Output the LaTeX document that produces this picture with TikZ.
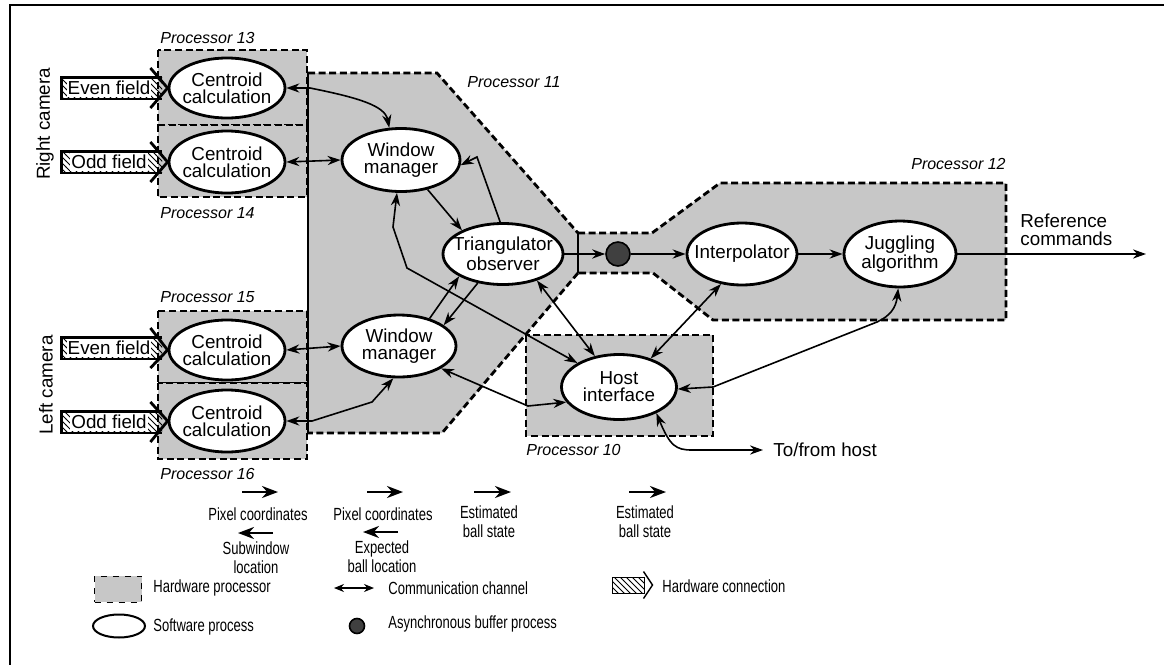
\documentclass[tikz,border=0pt]{standalone}
\usepackage{fontspec}
\setmainfont{Liberation Sans}
\newfontfamily\narrowfont[FakeStretch=0.74]{Liberation Sans}
\usepackage{tikz}
\usetikzlibrary{shapes.geometric,arrows.meta,patterns}
\tikzstyle{arrow} = [line width=0.8pt, -{Stealth[length=6.5pt,width=4.6pt]}]
\tikzstyle{twoway} = [line width=0.8pt, {Stealth[length=6.5pt,width=4.6pt]}-{Stealth[length=6.5pt,width=4.6pt]}]
\tikzstyle{flow} = [line width=1.2pt, -{Stealth[length=8pt,width=6pt]}]
\tikzstyle{task} = [ellipse, draw, line width=1.4pt, fill=white, align=center, inner xsep=-5pt, inner ysep=0pt, font=\fontsize{9.4}{8.6}\selectfont]
\tikzstyle{buffer} = [circle, draw, line width=0.8pt, fill=black!75, minimum size=12pt, inner sep=0pt]
\tikzstyle{procarea} = [fill=black!22]
\tikzstyle{procedge} = [line width=1.4pt, dash pattern=on 3.5pt off 1.8pt]
\tikzstyle{procname} = [font=\fontsize{8}{9}\selectfont\itshape, inner sep=0pt]
\tikzstyle{hwlink} = [pattern=north west lines, minimum width=50pt, minimum height=10.5pt, inner sep=0pt]
\tikzstyle{hwtext} = [fill=white, minimum height=9.1pt, inner xsep=0.6pt, inner ysep=0pt]
\tikzstyle{hwline} = [line width=1.4pt]
\tikzstyle{flowtext} = [align=center, inner sep=0pt, font=\narrowfont\fontsize{8.8}{9.3}\selectfont]
\tikzstyle{legtext} = [anchor=west, inner sep=0pt, font=\narrowfont\fontsize{8.8}{9.3}\selectfont]

\begin{document}
\begin{tikzpicture}[x=0.5pt, y=-0.5pt, every node/.style={font=\fontsize{9.4}{9}\selectfont}]
	\useasboundingbox (0,0) rectangle (1164,665);
	\draw[line width=0.7pt] (10,665) -- (10,5) -- (1164,5);

	\fill[procarea] (308,73) -- (437,73) -- (578,233) -- (578,273) -- (442,433) -- (308,433) -- cycle;
	\fill[procarea] (578,233) -- (652,233) -- (720,183) -- (1006,183) -- (1006,320) -- (713,320) -- (653,273) -- (578,273) -- cycle;
	\fill[procarea] (526,335) rectangle (713,436);
	\draw[procedge] (308,73) -- (437,73) -- (578,233);
	\draw[procedge] (578,273) -- (442,433) -- (308,433);
	\draw[procedge] (578,233) -- (652,233) -- (720,183) -- (1006,183) -- (1006,320) -- (713,320) -- (653,273) -- (578,273);
	\draw[procedge] (526,335) rectangle (713,436);
	\filldraw[procarea, procedge] (158,50) rectangle (307,125);
	\filldraw[procarea, procedge] (158,125) rectangle (307,197);
	\filldraw[procarea, procedge] (158,311) rectangle (307,383);
	\filldraw[procarea, procedge] (158,383) rectangle (307,459);
	\draw[hwline] (308,73) -- (308,433);
	\draw[hwline] (578,233) -- (578,273);

	\node[procname, anchor=west] (p13) at (160,38) {Processor 13};
	\node[procname, anchor=west] (p14) at (160,213) {Processor 14};
	\node[procname, anchor=west] (p15) at (160,297) {Processor 15};
	\node[procname, anchor=west] (p16) at (160,474) {Processor 16};
	\node[procname, anchor=west] (p11) at (467,82) {Processor 11};
	\node[procname, anchor=east] (p12) at (1006,164) {Processor 12};
	\node[procname, anchor=west] (p10) at (526,450) {Processor 10};

	\node[task, minimum width=58pt, minimum height=30pt] (c13) at (227,88) {Centroid\\calculation};
	\node[task, minimum width=58pt, minimum height=31pt] (c14) at (227,162) {Centroid\\calculation};
	\node[task, minimum width=58pt, minimum height=30pt] (c15) at (227,350) {Centroid\\calculation};
	\node[task, minimum width=58pt, minimum height=31pt] (c16) at (227,421) {Centroid\\calculation};
	\node[task, minimum width=59pt, minimum height=31.5pt] (wm1) at (401,160) {Window\\manager};
	\node[task, minimum width=57pt, minimum height=31pt] (wm2) at (399,346) {Window\\manager};
	\node[task, minimum width=60pt, minimum height=30.5pt] (tri) at (503,254) {Triangulator\\observer};
	\node[task, minimum width=57.5pt, minimum height=32.5pt] (host) at (619,387) {Host\\interface};
	\node[task, minimum width=55pt, minimum height=31pt] (interp) at (742,254) {Interpolator};
	\node[task, minimum width=56pt, minimum height=33pt] (jugg) at (900,254) {Juggling\\algorithm};
	\node[buffer] (buf) at (618,254) {};

	\node[rotate=90] (rcam) at (45,124) {Right camera};
	\node[rotate=90] (lcam) at (46,385) {Left camera};

	\node[hwlink] (reven) at (112,88) {};
	\node[hwtext] (reventx) at (109,88) {Even field};
	\draw[hwline] (reven.north east) -- (reven.north west) -- (reven.south west) -- (reven.south east);
	\draw[hwline] ([shift={(-12,-20)}]reven.east) -- (c13.west) -- ([shift={(-12,20)}]reven.east);
	\node[hwlink] (rodd) at (112,162) {};
	\node[hwtext] (roddtx) at (109,162) {Odd field};
	\draw[hwline] (rodd.north east) -- (rodd.north west) -- (rodd.south west) -- (rodd.south east);
	\draw[hwline] ([shift={(-12,-20)}]rodd.east) -- (c14.west) -- ([shift={(-12,20)}]rodd.east);
	\node[hwlink] (leven) at (112,348) {};
	\node[hwtext] (leventx) at (109,348) {Even field};
	\draw[hwline] (leven.north east) -- (leven.north west) -- (leven.south west) -- (leven.south east);
	\draw[hwline] ([shift={(-12,-20)}]leven.east) -- (c15.west) -- ([shift={(-12,20)}]leven.east);
	\node[hwlink] (lodd) at (112,422) {};
	\node[hwtext] (loddtx) at (109,422) {Odd field};
	\draw[hwline] (lodd.north east) -- (lodd.north west) -- (lodd.south west) -- (lodd.south east);
	\draw[hwline] ([shift={(-12,-20)}]lodd.east) -- (c16.west) -- ([shift={(-12,20)}]lodd.east);

	\draw[twoway] (c13.east) -- (310,88) .. controls (360,98) and (385,106) .. (wm1.110);
	\draw[twoway] (c14.east) -- (wm1.west);
	\draw[arrow] (wm1.-48) -- (tri.150);
	\draw[arrow] (tri.95) -- (477,157) -- (wm1.-5);
	\draw[twoway] (wm1.-97) -- (393,227) -- (407,268) -- (host.150);
	\draw[arrow] (wm2.42) -- (tri.-153);
	\draw[arrow] (tri.-131) -- (wm2.25);
	\draw[twoway] (c15.east) -- (wm2.west);
	\draw[twoway] (c16.east) -- (312,421) -- (372,402) -- (wm2.-100);
	\draw[twoway] (wm2.-28) -- (528,406) -- (host.196);
	\draw[twoway] (tri.-38) -- (host.128);
	\draw[arrow] (tri.east) -- (buf.west);
	\draw[arrow] (buf.east) -- (interp.west);
	\draw[arrow] (interp.east) -- (jugg.west);
	\coordinate (cmdout) at (1146,254);
	\draw[arrow] (jugg.east) -- (cmdout);
	\node[anchor=west, align=left, inner sep=0pt] (cmds) at (1020,230) {Reference\\commands};
	\draw[twoway] (interp.-125) -- (host.42);
	\draw[twoway] (jugg.-93) .. controls (896,308) and (890,316) .. (877,322) -- (713,387) -- (host.-2);
	\coordinate (hostend) at (763,450);
	\draw[twoway] (host.-35) .. controls (670,446) and (676,450) .. (692,450) -- (hostend);
	\node[anchor=west, inner sep=0pt] (hosttx) at (773,450) {To/from host};

	\node[flowtext] (pix1) at (258,514) {Pixel coordinates};
	\draw[flow] ([shift={(-16,-22)}]pix1.center) -- +(36,0);
	\node[flowtext] (subw) at (256,558) {Subwindow\\location};
	\draw[flow] ([shift={(17,-25)}]subw.center) -- +(-35,0);
	\node[flowtext] (pix2) at (383,514) {Pixel coordinates};
	\draw[flow] ([shift={(-16,-22)}]pix2.center) -- +(36,0);
	\node[flowtext] (expct) at (382,557) {Expected\\ball location};
	\draw[flow] ([shift={(16,-25)}]expct.center) -- +(-35,0);
	\node[flowtext] (est1) at (489,522) {Estimated\\ball state};
	\draw[flow] ([shift={(-15,-30)}]est1.center) -- +(37,0);
	\node[flowtext] (est2) at (645,522) {Estimated\\ball state};
	\draw[flow] ([shift={(-16,-30)}]est2.center) -- +(37,0);

	\node[procarea, draw, dashed, line width=0.5pt, minimum width=23.5pt, minimum height=13pt, inner sep=0pt] (lproc) at (118,589) {};
	\node[legtext] (lproctx) at (153,588) {Hardware processor};
	\node[ellipse, draw, line width=1pt, minimum width=26pt, minimum height=11.5pt, inner sep=0pt] (lsoft) at (119,626) {};
	\node[legtext] (lsofttx) at (153,627) {Software process};
	\coordinate (lcomma) at (334,588);
	\coordinate (lcommb) at (374,588);
	\draw[line width=0.6pt, {Stealth[length=5pt,width=4pt]}-{Stealth[length=5pt,width=4pt]}] (lcomma) -- (lcommb);
	\node[legtext] (lcommtx) at (388,588) {Communication channel};
	\node[buffer, minimum size=7.5pt] (lbuf) at (357,626) {};
	\node[legtext] (lbuftx) at (388,624) {Asynchronous buffer process};
	\node[pattern=north west lines, draw, line width=0.5pt, minimum width=16pt, minimum height=8pt, inner sep=0pt] (lhw) at (628,585) {};
	\draw[line width=0.7pt] ([shift={(-1,-5)}]lhw.north east) -- ([shift={(8,0)}]lhw.east) -- ([shift={(-1,5)}]lhw.south east);
	\node[legtext] (lhwtx) at (662,586) {Hardware connection};
\end{tikzpicture}
\end{document}
